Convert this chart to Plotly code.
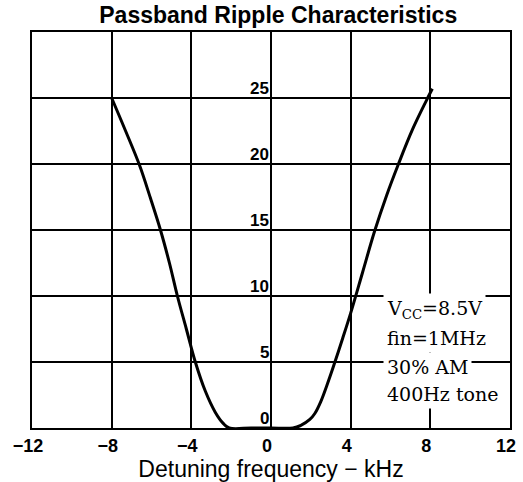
import plotly.graph_objects as go

# Passband ripple curve: detuning (kHz) vs attenuation (dB)
detune_khz = [-8.0, -7.3, -6.6, -6.05, -5.55, -5.1, -4.7, -4.25, -3.8, -3.3,
              -2.8, -2.4, -2.1, -1.0, 0.0, 1.1, 1.5, 1.95, 2.2, 2.5, 2.8,
              3.1, 3.6, 4.0, 4.6, 5.2, 5.8, 6.4, 7.1, 7.8, 8.1]
ripple_db = [25.0, 22.5, 19.9, 17.4, 15.0, 12.5, 10.0, 7.5, 5.0, 2.8,
             1.2, 0.35, 0.0, 0.0, 0.0, 0.0, 0.2, 0.65, 1.1, 2.0, 3.2,
             4.5, 6.8, 8.7, 11.8, 14.9, 17.6, 20.0, 22.6, 24.8, 25.7]

x_ticks = [-12, -8, -4, 0, 4, 8, 12]
y_ticks = [0, 5, 10, 15, 20, 25]
y_tick_labels = ["0", "5", "10", "15", "20", "25"]

condition_lines = ["V<sub>CC</sub>=8.5V", "fin=1MHz", "30% AM", "400Hz tone"]
condition_y = [8.95, 6.8, 4.65, 2.6]

fig = go.Figure()
fig.add_trace(go.Scatter(
    x=detune_khz, y=ripple_db, mode="lines",
    line=dict(color="black", width=3, shape="spline", smoothing=1.0),
    showlegend=False, hoverinfo="skip",
))

# y tick labels sit inside the grid, just left of the 0 kHz line
for v, lab in zip(y_ticks, y_tick_labels):
    fig.add_annotation(
        x=0, y=v, xref="x", yref="y", text=lab, showarrow=False,
        xanchor="right", yanchor="bottom", xshift=0, yshift=-2,
        font=dict(family="Liberation Sans", size=17, color="black", weight="bold"),
    )

# measurement conditions, each line on its own white backing
for txt, yv in zip(condition_lines, condition_y):
    fig.add_annotation(
        x=5.6, y=yv, xref="x", yref="y", text=txt, showarrow=False,
        xanchor="left", yanchor="middle", bgcolor="white", borderpad=3,
        font=dict(family="DejaVu Serif", size=19, color="black"),
    )

fig.update_layout(
    width=523, height=482,
    margin=dict(l=32, r=7, t=32, b=54),
    paper_bgcolor="white", plot_bgcolor="white",
    title=dict(
        text="<b>Passband Ripple Characteristics</b>",
        x=0.532, xanchor="center", y=0.969, yanchor="middle",
        font=dict(family="Liberation Sans", size=23, color="black"),
    ),
    xaxis=dict(
        range=[-12, 12], tickvals=x_ticks, showgrid=True,
        gridcolor="black", gridwidth=1.5, zeroline=False,
        showline=True, linecolor="black", linewidth=2, mirror=True,
        ticks="", ticklabelshift=-4,
        tickfont=dict(family="Liberation Sans", size=18,
                      color="black", weight="bold"),
        title=dict(text="Detuning frequency − kHz", standoff=0,
                   font=dict(family="Liberation Sans", size=23, color="black")),
    ),
    yaxis=dict(
        range=[0, 30], dtick=5, showgrid=True, gridcolor="black",
        gridwidth=1.5, zeroline=False, showticklabels=False,
        showline=True, linecolor="black", linewidth=2, mirror=True, ticks="",
    ),
)

fig.write_html("out.html")
